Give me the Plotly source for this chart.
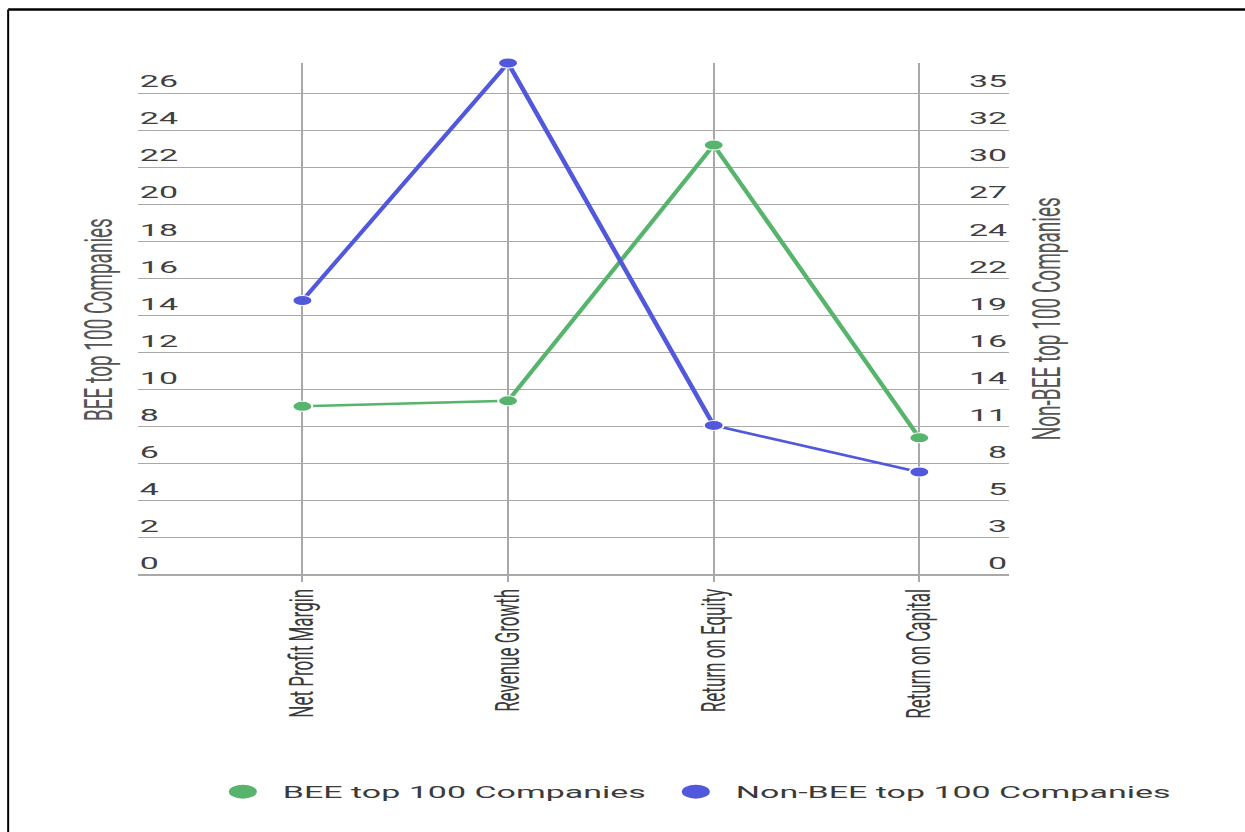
import plotly.graph_objects as go

# Financial ratios of the BEE and non-BEE top 100 companies
categories = ["Net Profit Margin", "Revenue Growth", "Return on Equity", "Return on Capital"]
bee_values = [9.1, 9.4, 23.2, 7.4]          # left axis
non_bee_values = [20.0, 37.3, 10.9, 7.5]    # right axis

left_ticks = list(range(0, 27, 2))
axis_ratio = 1.35
right_ticks = [t * axis_ratio for t in left_ticks]
right_tick_text = [str(int(v + 0.5)) for v in right_ticks]

bee_name = "BEE top 100 Companies"
non_bee_name = "Non-BEE top 100 Companies"

GREEN = "#57b46c"
BLUE = "#5158dc"
GRID = "#a9a9a9"
FONT = "Roboto"

# chart is laid out narrow and widened horizontally on the page
WIDTH, HEIGHT = 623, 832
STRETCH = 1245 / WIDTH

right_max = 37.3
left_max = right_max / axis_ratio

fig = go.Figure()

fig.add_trace(go.Scatter(
    x=categories, y=bee_values, name=bee_name, mode="lines+markers",
    line=dict(color=GREEN, width=2.5),
    marker=dict(color=GREEN, size=10, line=dict(color="white", width=1)),
    showlegend=False, cliponaxis=False, yaxis="y",
))
fig.add_trace(go.Scatter(
    x=categories, y=non_bee_values, name=non_bee_name, mode="lines+markers",
    line=dict(color=BLUE, width=2.5),
    marker=dict(color=BLUE, size=10, line=dict(color="white", width=1)),
    showlegend=False, cliponaxis=False, yaxis="y2",
))

# legend entries show only the colour dots
for name, color in [(bee_name, GREEN), (non_bee_name, BLUE)]:
    fig.add_trace(go.Scatter(
        x=[None], y=[None], name=name, mode="markers",
        marker=dict(color=color, size=14),
    ))

fig.update_layout(
    width=WIDTH, height=HEIGHT,
    margin=dict(l=68.5, r=WIDTH - 505, t=63, b=257),
    paper_bgcolor="white", plot_bgcolor="white",
    font=dict(family=FONT, size=17, color="#444"),
    xaxis=dict(
        type="category", range=[-0.8, 3.437],
        showgrid=True, gridcolor=GRID, gridwidth=1.2,
        ticks="outside", ticklen=6, tickcolor=GRID,
        tickangle=-90, tickfont=dict(family=FONT, size=17, color="#3a3a3a"),
        showline=False, zeroline=False,
    ),
    yaxis=dict(
        range=[0, left_max], tickvals=left_ticks,
        showgrid=True, gridcolor=GRID, gridwidth=1.2,
        zeroline=True, zerolinecolor=GRID, zerolinewidth=1.5,
        ticklabelposition="inside top", ticklabelstandoff=-2,
        tickfont=dict(family=FONT, size=17, color="#404040"),
        showline=False, ticks="",
    ),
    yaxis2=dict(
        range=[0, right_max], tickvals=right_ticks, ticktext=right_tick_text,
        overlaying="y", side="right", showgrid=False, zeroline=False,
        ticklabelposition="inside top", ticklabelstandoff=-2,
        tickfont=dict(family=FONT, size=17, color="#404040"),
        showline=False, ticks="",
    ),
    legend=dict(
        orientation="h", x=1.1985, xanchor="right",
        y=-0.424, yanchor="middle",
        font=dict(family=FONT, size=17, color="#3a3a3a"),
        itemclick=False, bgcolor="rgba(0,0,0,0)",
    ),
    annotations=[
        dict(text=bee_name, textangle=-90, xref="paper", yref="paper",
             x=-0.0458, y=0.498, xanchor="center", yanchor="middle", showarrow=False,
             font=dict(family=FONT, size=19, color="#555")),
        dict(text=non_bee_name, textangle=-90, xref="paper", yref="paper",
             x=1.042, y=0.5, xanchor="center", yanchor="middle", showarrow=False,
             font=dict(family=FONT, size=19, color="#555")),
    ],
    shapes=[
        # frame edges
        dict(type="line", xref="paper", yref="paper", x0=-0.1489, x1=1.6, y0=1.1045, y1=1.1045,
             line=dict(color="black", width=2.5)),
        dict(type="line", xref="paper", yref="paper", x0=-0.1489, x1=-0.1489, y0=1.1045, y1=-0.6,
             line=dict(color="black", width=1)),
    ],
)

stretch_js = (
    "var gd = document.getElementById('{plot_id}');"
    "gd.style.transformOrigin = '0 0';"
    "gd.style.transform = 'scaleX(%.5f)';" % STRETCH
)

fig.write_html("out.html", post_script=stretch_js, config={"displayModeBar": False})
